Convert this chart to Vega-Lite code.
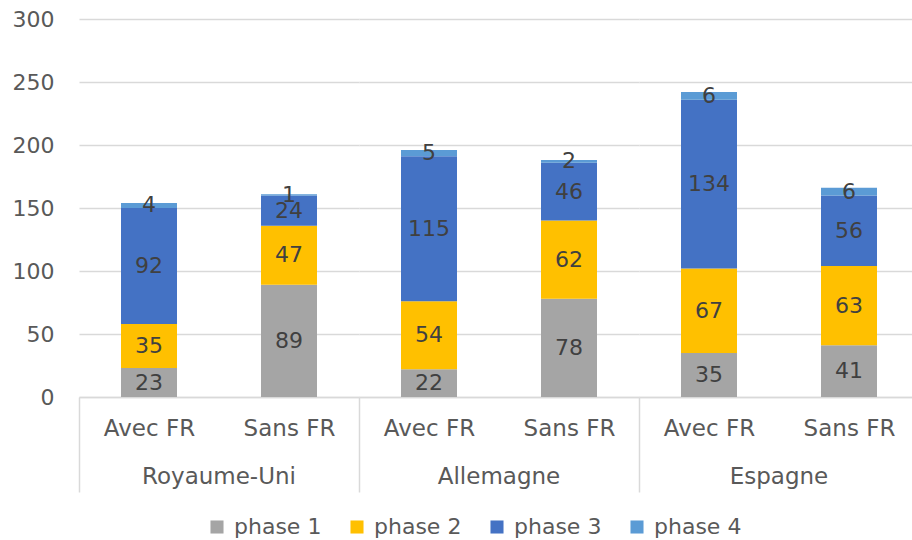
{
  "$schema": "https://vega.github.io/schema/vega-lite/v6.json",
  "autosize": {"type": "pad"},
  "padding": {"left": 12, "top": 8, "right": 0, "bottom": 0},
  "background": "white",
  "data": {"values": [
    {"country": "Royaume-Uni", "fr": "Avec FR", "phase": "phase 1", "value": 23},
    {"country": "Royaume-Uni", "fr": "Avec FR", "phase": "phase 2", "value": 35},
    {"country": "Royaume-Uni", "fr": "Avec FR", "phase": "phase 3", "value": 92},
    {"country": "Royaume-Uni", "fr": "Avec FR", "phase": "phase 4", "value": 4},
    {"country": "Royaume-Uni", "fr": "Sans FR", "phase": "phase 1", "value": 89},
    {"country": "Royaume-Uni", "fr": "Sans FR", "phase": "phase 2", "value": 47},
    {"country": "Royaume-Uni", "fr": "Sans FR", "phase": "phase 3", "value": 24},
    {"country": "Royaume-Uni", "fr": "Sans FR", "phase": "phase 4", "value": 1},
    {"country": "Allemagne", "fr": "Avec FR", "phase": "phase 1", "value": 22},
    {"country": "Allemagne", "fr": "Avec FR", "phase": "phase 2", "value": 54},
    {"country": "Allemagne", "fr": "Avec FR", "phase": "phase 3", "value": 115},
    {"country": "Allemagne", "fr": "Avec FR", "phase": "phase 4", "value": 5},
    {"country": "Allemagne", "fr": "Sans FR", "phase": "phase 1", "value": 78},
    {"country": "Allemagne", "fr": "Sans FR", "phase": "phase 2", "value": 62},
    {"country": "Allemagne", "fr": "Sans FR", "phase": "phase 3", "value": 46},
    {"country": "Allemagne", "fr": "Sans FR", "phase": "phase 4", "value": 2},
    {"country": "Espagne", "fr": "Avec FR", "phase": "phase 1", "value": 35},
    {"country": "Espagne", "fr": "Avec FR", "phase": "phase 2", "value": 67},
    {"country": "Espagne", "fr": "Avec FR", "phase": "phase 3", "value": 134},
    {"country": "Espagne", "fr": "Avec FR", "phase": "phase 4", "value": 6},
    {"country": "Espagne", "fr": "Sans FR", "phase": "phase 1", "value": 41},
    {"country": "Espagne", "fr": "Sans FR", "phase": "phase 2", "value": 63},
    {"country": "Espagne", "fr": "Sans FR", "phase": "phase 3", "value": 56},
    {"country": "Espagne", "fr": "Sans FR", "phase": "phase 4", "value": 6}
  ]},
  "transform": [
    {"stack": "value", "groupby": ["country", "fr"], "sort": [{"field": "phase", "order": "ascending"}], "as": ["v0", "v1"]},
    {"calculate": "(datum.v0 + datum.v1) / 2", "as": "mid"}
  ],
  "facet": {
    "column": {
      "field": "country", "type": "nominal",
      "sort": ["Royaume-Uni", "Allemagne", "Espagne"],
      "title": null,
      "header": {"labelOrient": "bottom", "labelFont": "DejaVu Sans", "labelFontSize": 23, "labelColor": "#595959", "labelPadding": -27}
    }
  },
  "spacing": 0,
  "spec": {
    "width": 280,
    "height": 378,
    "encoding": {
      "x": {
        "field": "fr", "type": "nominal", "title": null,
        "scale": {"paddingInner": 0.6, "paddingOuter": 0.3},
        "axis": {
          "labelAngle": 0, "labelFontSize": 23, "labelColor": "#595959",
          "domainColor": "#d9d9d9", "domainWidth": 1.5,
          "tickColor": "#d9d9d9", "tickWidth": 1.5, "tickSize": 95,
          "tickOffset": -70, "labelOffset": 70,
          "tickOpacity": {"condition": {"test": "datum.value === 'Sans FR'", "value": 0}, "value": 1},
          "labelPadding": -75, "labelBaseline": "top"
        }
      }
    },
    "layer": [
      {
        "mark": {"type": "bar"},
        "encoding": {
          "y": {"field": "v0", "type": "quantitative", "title": null,
            "scale": {"domain": [0, 300]},
            "axis": {"values": [0, 50, 100, 150, 200, 250, 300], "domain": false, "ticks": false,
              "labelFontSize": 22, "labelColor": "#595959", "labelPadding": 25,
              "gridColor": "#d9d9d9", "gridWidth": 1.5}},
          "y2": {"field": "v1"},
          "color": {"field": "phase", "type": "nominal",
            "scale": {"domain": ["phase 1", "phase 2", "phase 3", "phase 4"], "range": ["#A5A5A5", "#FFC000", "#4472C4", "#5B9BD5"]},
            "legend": {"title": null, "orient": "none", "legendX": 127, "legendY": 497, "direction": "horizontal", "symbolType": "square", "symbolSize": 170,
              "symbolStrokeWidth": 0, "labelFontSize": 22, "labelColor": "#595959", "columnPadding": 24, "labelOffset": 6}}
        }
      },
      {
        "mark": {"type": "text", "fontSize": 22, "color": "#404040", "baseline": "middle", "align": "center"},
        "encoding": {
          "y": {"field": "mid", "type": "quantitative"},
          "text": {"field": "value", "type": "quantitative"}
        }
      }
    ]
  },
  "config": {"font": "DejaVu Sans", "view": {"stroke": null}}
}
